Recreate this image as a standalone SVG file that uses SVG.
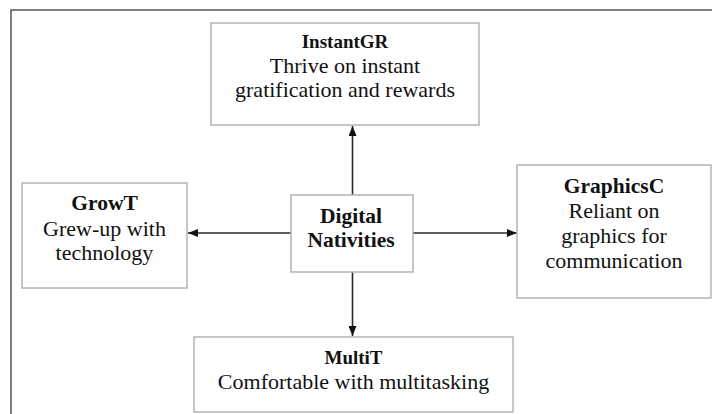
<svg xmlns="http://www.w3.org/2000/svg" width="712" height="414" viewBox="0 0 712 414">
<style>
.box{fill:#fff;stroke:#b4b4b4;stroke-width:1.5}
.t{font-family:"Liberation Serif","Times New Roman",serif;fill:#111;text-anchor:middle}
.r{font-size:22px}
.b{font-weight:bold;font-size:21.5px}
.bs{font-weight:bold;font-size:19px}
.c{stroke:#2a2a2a;stroke-width:1.6;fill:none;marker-end:url(#ah)}
</style>
<defs>
<marker id="ah" markerWidth="10" markerHeight="8" refX="10" refY="4" orient="auto" markerUnits="userSpaceOnUse">
<path d="M0,0 L10,4 L0,8 Z" fill="#111"/>
</marker>
</defs>
<rect x="0" y="0" width="712" height="414" fill="#fff"/>
<rect x="11" y="10" width="720" height="420" fill="none" stroke="#555" stroke-width="1.5"/>
<g id="connectors">
<line class="c" x1="352.5" y1="195" x2="352.5" y2="126"/>
<line class="c" x1="352.5" y1="272" x2="352.5" y2="336"/>
<line class="c" x1="291" y1="233" x2="188" y2="233"/>
<line class="c" x1="413" y1="233" x2="517" y2="233"/>
</g>
<g id="InstantGR">
<rect class="box" x="211" y="23" width="268" height="102"/>
<text class="t bs" x="345" y="48">InstantGR</text>
<text class="t r" x="345" y="73">Thrive on instant</text>
<text class="t r" x="345" y="97">gratification and rewards</text>
</g>
<g id="GrowT">
<rect class="box" x="22" y="183" width="165" height="105"/>
<text class="t b" x="104.5" y="210">GrowT</text>
<text class="t r" x="104.5" y="236">Grew-up with</text>
<text class="t r" x="104.5" y="260">technology</text>
</g>
<g id="DigitalNativities">
<rect class="box" x="291" y="195" width="122" height="77"/>
<text class="t b" x="351" y="223">Digital</text>
<text class="t b" x="351" y="247">Nativities</text>
</g>
<g id="GraphicsC">
<rect class="box" x="517" y="165" width="194" height="133"/>
<text class="t b" x="614" y="193">GraphicsC</text>
<text class="t r" x="614" y="218">Reliant on</text>
<text class="t r" x="614" y="243">graphics for</text>
<text class="t r" x="614" y="268">communication</text>
</g>
<g id="MultiT">
<rect class="box" x="194" y="337" width="319" height="75"/>
<text class="t bs" x="353.5" y="364">MultiT</text>
<text class="t r" x="353.5" y="389">Comfortable with multitasking</text>
</g>
</svg>
